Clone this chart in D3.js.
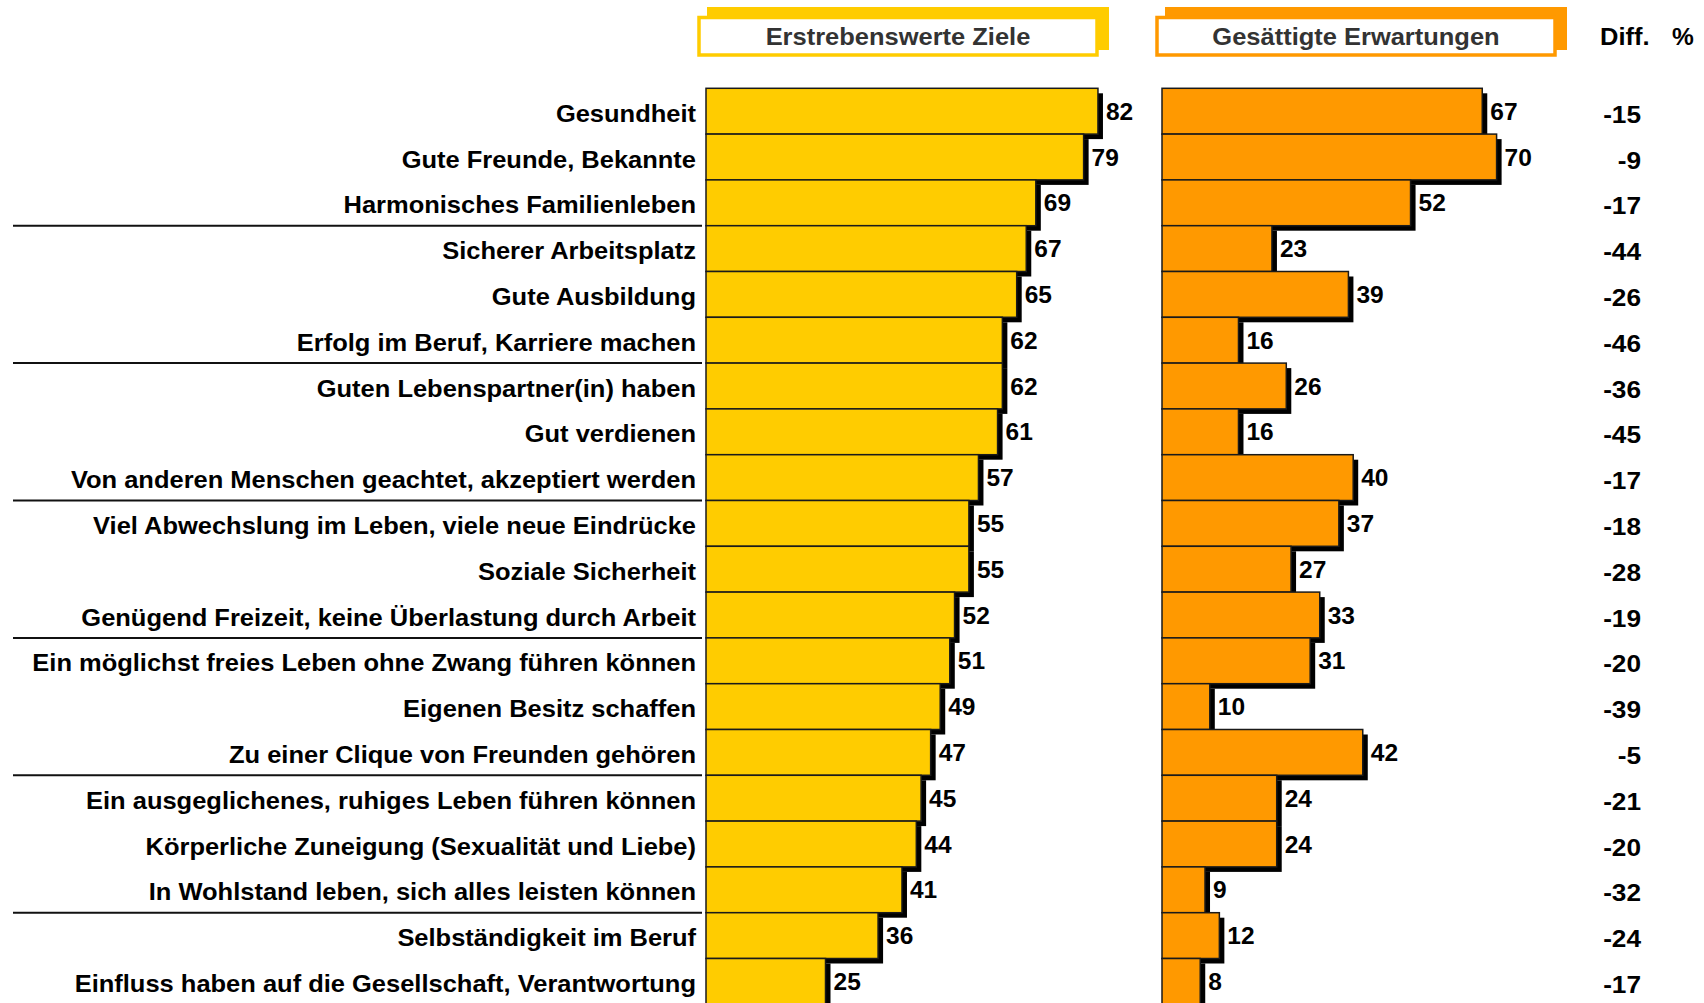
<!DOCTYPE html>
<html>
<head>
<meta charset="utf-8">
<script src="https://d3js.org/d3.v7.min.js"></script>
<style>
  body { margin: 0; background: #fff; }
  text { font-family: "Liberation Sans", Arial, sans-serif; font-weight: bold; }
</style>
</head>
<body>
<div id="chart"></div>
<script>
var categories = [
    "Gesundheit",
    "Gute Freunde, Bekannte",
    "Harmonisches Familienleben",
    "Sicherer Arbeitsplatz",
    "Gute Ausbildung",
    "Erfolg im Beruf, Karriere machen",
    "Guten Lebenspartner(in) haben",
    "Gut verdienen",
    "Von anderen Menschen geachtet, akzeptiert werden",
    "Viel Abwechslung im Leben, viele neue Eindrücke",
    "Soziale Sicherheit",
    "Genügend Freizeit, keine Überlastung durch Arbeit",
    "Ein möglichst freies Leben ohne Zwang führen können",
    "Eigenen Besitz schaffen",
    "Zu einer Clique von Freunden gehören",
    "Ein ausgeglichenes, ruhiges Leben führen können",
    "Körperliche Zuneigung (Sexualität und Liebe)",
    "In Wohlstand leben, sich alles leisten können",
    "Selbständigkeit im Beruf",
    "Einfluss haben auf die Gesellschaft, Verantwortung"
];
var goals =    [82, 79, 69, 67, 65, 62, 62, 61, 57, 55, 55, 52, 51, 49, 47, 45, 44, 41, 36, 25];
var saturated = [67, 70, 52, 23, 39, 16, 26, 16, 40, 37, 27, 33, 31, 10, 42, 24, 24, 9, 12, 8];
var diffs = [-15, -9, -17, -44, -26, -46, -36, -45, -17, -18, -28, -19, -20, -39, -5, -21, -20, -32, -24, -17];
var separatorsAfter = [2, 5, 8, 11, 14, 17];
var headers = ["Erstrebenswerte Ziele", "Gesättigte Erwartungen"];

var width = 1704, height = 1003,
    rowTop = 88.3, rowH = 45.8,
    yellow = "#FFCC00", orange = "#FF9900",
    shadow = 5,
    stretch = 1.04;   // the source type is a bit wider than Arial

var svg = d3.select("#chart").append("svg")
    .attr("width", width)
    .attr("height", height);

var yScale = d3.scaleBand()
    .domain(categories)
    .range([rowTop, rowTop + rowH * categories.length])
    .padding(0);

var xScale = d3.scaleLinear().domain([0, 100]).range([0, 478]);

var panels = [
    {left: 706, values: goals, color: yellow, header: headers[0], box: 697},
    {left: 1162, values: saturated, color: orange, header: headers[1], box: 1155}
];

// category labels
svg.append("g").selectAll("text")
    .data(categories)
    .enter().append("text")
    .attr("transform", d => "translate(696," + (yScale(d) + yScale.bandwidth() / 2 + 10.5) + ") scale(" + stretch + ",1)")
    .attr("text-anchor", "end")
    .style("font-size", "24.5px")
    .attr("fill", "#000")
    .text(d => d);

// separator lines
svg.append("g").selectAll("line")
    .data(separatorsAfter)
    .enter().append("line")
    .attr("x1", 13).attr("x2", 702)
    .attr("y1", i => yScale(categories[i]) + rowH)
    .attr("y2", i => yScale(categories[i]) + rowH)
    .attr("stroke", "#111")
    .attr("stroke-width", 2);

panels.forEach(p => {
    // header box
    svg.append("rect")
        .attr("x", p.box + 10).attr("y", 7)
        .attr("width", 402).attr("height", 43)
        .attr("fill", p.color);
    svg.append("rect")
        .attr("x", p.box + 2).attr("y", 17.5)
        .attr("width", 398).attr("height", 37.5)
        .attr("fill", "#fff")
        .attr("stroke", p.color)
        .attr("stroke-width", 3.5);
    svg.append("text")
        .attr("transform", "translate(" + (p.box + 201) + ",45) scale(" + stretch + ",1)")
        .attr("text-anchor", "middle")
        .style("font-size", "24.5px")
        .attr("fill", "#333")
        .text(p.header);

    var g = svg.append("g");
    p.values.forEach((v, i) => {
        var y = yScale(categories[i]);
        g.append("rect")
            .attr("x", p.left + shadow)
            .attr("y", y + shadow)
            .attr("width", xScale(v))
            .attr("height", rowH)
            .attr("fill", "#000");
        g.append("rect")
            .attr("x", p.left)
            .attr("y", y)
            .attr("width", xScale(v))
            .attr("height", rowH)
            .attr("fill", p.color)
            .attr("stroke", "#1a1a1a")
            .attr("stroke-width", 1.5);
    });

    svg.append("g").selectAll("text")
        .data(p.values)
        .enter().append("text")
        .attr("x", v => p.left + xScale(v) + 8)
        .attr("y", (v, i) => yScale(categories[i]) + rowH / 2 + 8.5)
        .style("font-size", "24.5px")
        .attr("fill", "#000")
        .text(v => v);
});

// difference column
svg.append("text").attr("transform", "translate(1600,45) scale(" + stretch + ",1)")
    .style("font-size", "24.5px").text("Diff.");
svg.append("text").attr("x", 1672).attr("y", 45)
    .style("font-size", "24.5px").text("%");

svg.append("g").selectAll("text")
    .data(diffs)
    .enter().append("text")
    .attr("transform", (v, i) => "translate(1641," + (yScale(categories[i]) + rowH / 2 + 11.5) + ") scale(1.07,1)")
    .attr("text-anchor", "end")
    .style("font-size", "24.5px")
    .text(v => v);
</script>
</body>
</html>
